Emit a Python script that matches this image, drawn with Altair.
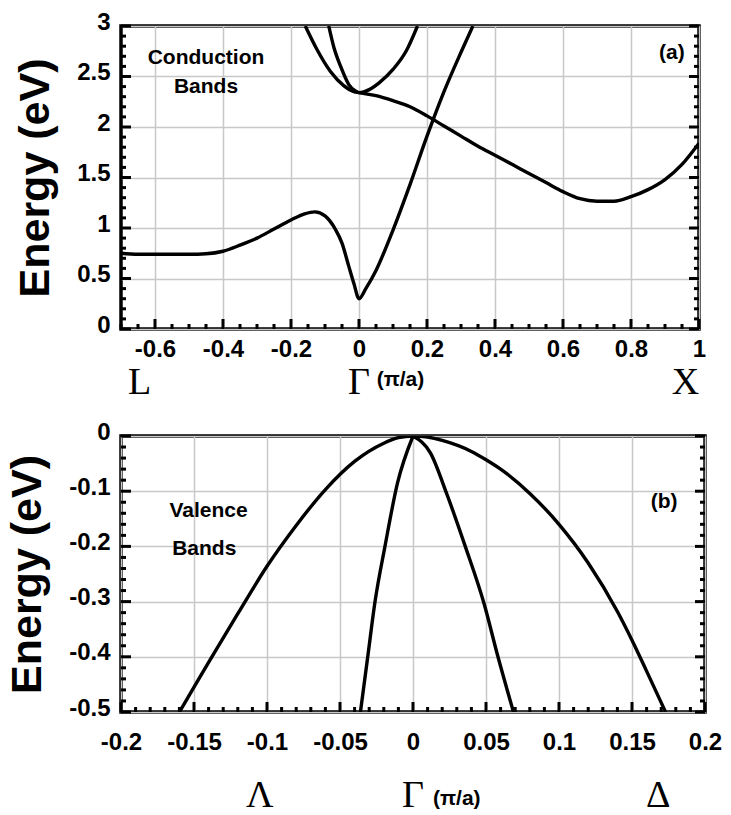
import altair as alt
import pandas as pd

SANS = "Liberation Sans"
SERIF = "Liberation Serif"
GRID = "#c8c8c8"

# ---- panel (a): conduction bands, k in units of pi/a (negative: towards L, positive: towards X)
cb_low_k = [-0.70, -0.65, -0.60, -0.55, -0.50, -0.45, -0.40, -0.35, -0.30, -0.25, -0.20, -0.16,
            -0.13, -0.10, -0.07, -0.05, -0.03, -0.015, 0.0, 0.02, 0.05, 0.10, 0.15, 0.20,
            0.22, 0.25, 0.30, 0.335]
cb_low_e = [0.75, 0.74, 0.74, 0.74, 0.74, 0.745, 0.77, 0.83, 0.90, 0.99, 1.08, 1.14,
            1.16, 1.12, 0.99, 0.85, 0.62, 0.45, 0.30, 0.40, 0.58, 0.98, 1.43, 1.91,
            2.09, 2.35, 2.74, 3.00]

cb_mid_k = [-0.158, -0.124, -0.084, -0.045, -0.015, 0.0, 0.05, 0.10, 0.15, 0.20, 0.25, 0.30,
            0.35, 0.40, 0.45, 0.50, 0.55, 0.60, 0.65, 0.70, 0.75, 0.80, 0.85, 0.90, 0.95, 1.00]
cb_mid_e = [3.00, 2.77, 2.55, 2.41, 2.35, 2.34, 2.31, 2.26, 2.20, 2.11, 2.01, 1.91,
            1.81, 1.72, 1.63, 1.54, 1.45, 1.36, 1.29, 1.265, 1.265, 1.31, 1.38, 1.48, 1.63, 1.84]

cb_up_k = [-0.089, -0.074, -0.054, -0.030, -0.012, 0.0, 0.03, 0.06, 0.10, 0.14, 0.172]
cb_up_e = [3.00, 2.79, 2.60, 2.42, 2.36, 2.34, 2.37, 2.44, 2.57, 2.76, 3.00]

# ---- panel (b): valence bands near the top at Gamma
vb_heavy_k = [-0.160, -0.150, -0.140, -0.120, -0.100, -0.080, -0.060, -0.040, -0.020, -0.010,
              0.0, 0.010, 0.020, 0.040, 0.050, 0.060, 0.080, 0.100, 0.120, 0.140, 0.150,
              0.160, 0.173]
vb_heavy_e = [-0.500, -0.455, -0.410, -0.322, -0.236, -0.162, -0.097, -0.046, -0.013, -0.003,
              0.0, -0.002, -0.008, -0.028, -0.043, -0.060, -0.104, -0.160, -0.230, -0.318, -0.370,
              -0.426, -0.500]

# light band, Gamma -> Lambda and Gamma -> Delta branches (cusp at Gamma)
vb_light_l_k = [-0.036, -0.031, -0.026, -0.0192, -0.0106, 0.0]
vb_light_l_e = [-0.500, -0.400, -0.300, -0.200, -0.085, 0.0]
vb_light_r_k = [0.0, 0.012, 0.023, 0.0358, 0.0486, 0.0582, 0.0688]
vb_light_r_e = [0.0, -0.031, -0.104, -0.200, -0.303, -0.400, -0.500]


def bands(series):
    rows = []
    for name, ks, es in series:
        for i, (k, e) in enumerate(zip(ks, es)):
            rows.append({"band": name, "i": i, "k": k, "E": e})
    return pd.DataFrame(rows)


def steps(lo, hi, step, nd):
    n = int(round((hi - lo) / step))
    return [round(lo + j * step, nd) for j in range(n + 1)]


def panel(df, W, H, xdom, ydom, xmaj, xmin, ymaj, ymin, notes, symbols, unit_k,
          sym_y, unit_y, xpad):
    xs = alt.Scale(domain=xdom, nice=False, zero=False)
    ys = alt.Scale(domain=ydom, nice=False, zero=False)

    lines = alt.Chart(df).mark_line(color="black", strokeWidth=3.4, clip=True,
                                    interpolate="monotone").encode(
        x=alt.X("k:Q", scale=xs, axis=alt.Axis(
            orient="bottom", values=xmaj, ticks=False, domain=False, grid=True,
            gridColor=GRID, gridWidth=1.5, labelFont=SANS, labelFontSize=24,
            labelFontWeight="bold", labelColor="black", labelPadding=xpad, labelFlush=False,
            labelExpr="'' + datum.value", title=None)),
        y=alt.Y("E:Q", scale=ys, axis=alt.Axis(
            orient="left", values=ymaj, ticks=False, domain=False, grid=True,
            gridColor=GRID, gridWidth=1.5, labelFont=SANS, labelFontSize=24,
            labelFontWeight="bold", labelColor="black", labelPadding=11, labelOffset=-4,
            labelExpr="'' + datum.value", title="Energy (eV)", titleFont=SANS,
            titleFontSize=43, titleFontWeight="bold", titleColor="black", titlePadding=19)),
        detail="band:N", order="i:Q")

    # inward tick marks on the bottom, left and right frame edges
    def xticks(vals, length):
        return alt.Chart(pd.DataFrame({"k": vals})).mark_rule(
            color="black", strokeWidth=3).encode(
            x=alt.X("k:Q", scale=xs), y=alt.value(H), y2=alt.value(H - length))

    def yticks(vals, length, right):
        x0 = W if right else 0
        x1 = W - length if right else length
        return alt.Chart(pd.DataFrame({"E": vals})).mark_rule(
            color="black", strokeWidth=3).encode(
            y=alt.Y("E:Q", scale=ys), x=alt.value(x0), x2=alt.value(x1))

    ticks = [xticks(xmaj, 10), xticks(xmin, 5),
             yticks(ymaj, 10, False), yticks(ymin, 5, False),
             yticks(ymaj, 10, True), yticks(ymin, 5, True)]

    note_df = pd.DataFrame(notes, columns=["k", "E", "t"])
    note = alt.Chart(note_df).mark_text(font=SANS, fontSize=21, fontWeight="bold",
                                        color="black").encode(
        x=alt.X("k:Q", scale=xs), y=alt.Y("E:Q", scale=ys), text="t:N")

    sym_df = pd.DataFrame(symbols, columns=["k", "t"])
    sym = alt.Chart(sym_df).mark_text(font=SERIF, fontSize=38, baseline="alphabetic",
                                      color="black").encode(
        x=alt.X("k:Q", scale=xs), y=alt.value(sym_y), text="t:N")

    unit_df = pd.DataFrame({"k": [unit_k], "t": ["(π/a)"]})
    unit = alt.Chart(unit_df).mark_text(font=SANS, fontSize=21, fontWeight="bold",
                                        baseline="alphabetic", color="black").encode(
        x=alt.X("k:Q", scale=xs), y=alt.value(unit_y), text="t:N")

    return alt.layer(lines, *ticks, note, sym, unit).properties(width=W, height=H)


top_df = bands([("low", cb_low_k, cb_low_e), ("mid", cb_mid_k, cb_mid_e),
                ("up", cb_up_k, cb_up_e)])
bot_df = bands([("heavy", vb_heavy_k, vb_heavy_e), ("light_l", vb_light_l_k, vb_light_l_e),
                ("light_r", vb_light_r_k, vb_light_r_e)])

top = panel(
    top_df, 578, 303, [-0.7, 1.0], [0, 3],
    [-0.6, -0.4, -0.2, 0, 0.2, 0.4, 0.6, 0.8, 1],
    [v for v in steps(-0.7, 1.0, 0.05, 2) if round(v * 5, 6) != round(v * 5)],
    [0, 0.5, 1, 1.5, 2, 2.5, 3],
    [v for v in steps(0, 3, 0.1, 1) if round(v * 2, 6) != round(v * 2)],
    [(-0.45, 2.68, "Conduction"), (-0.45, 2.40, "Bands"), (0.92, 2.73, "(a)")],
    [(-0.645, "L"), (0.0, "Γ"), (0.96, "X")],
    0.122, 368, 360, 8)

bottom = panel(
    bot_df, 584, 276, [-0.2, 0.2], [-0.5, 0],
    [-0.2, -0.15, -0.1, -0.05, 0, 0.05, 0.1, 0.15, 0.2],
    [v for v in steps(-0.2, 0.2, 0.01, 2) if round(v * 20, 6) != round(v * 20)],
    [-0.5, -0.4, -0.3, -0.2, -0.1, 0],
    [v for v in steps(-0.5, 0, 0.02, 2) if round(v * 10, 6) != round(v * 10)],
    [(-0.14, -0.135, "Valence"), (-0.143, -0.205, "Bands"), (0.172, -0.12, "(b)")],
    [(-0.105, "Λ"), (0.0, "Γ"), (0.168, "Δ")],
    0.030, 371, 369, 18)

chart = alt.vconcat(top, bottom, spacing=14).configure_view(
    stroke="black", strokeWidth=3.5).properties(
    padding={"left": 4, "top": 8, "right": 5, "bottom": 0})

chart.save("out.html", embed_options={"renderer": "svg", "actions": False})
